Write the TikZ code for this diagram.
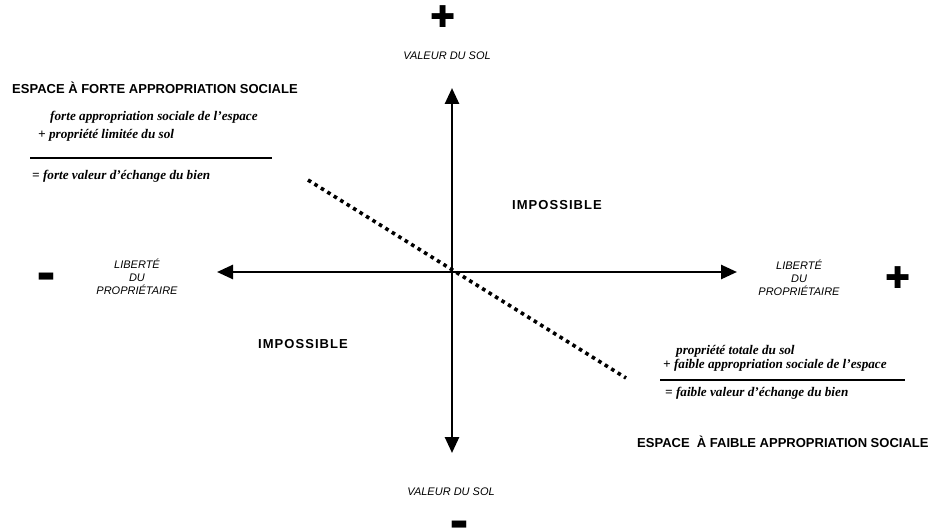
\documentclass[tikz,border=0pt]{standalone}
\usepackage{fontspec}
\setmainfont{Liberation Serif}
\setsansfont{Liberation Sans}
\newfontfamily\symbolfont{DejaVu Sans}
\usetikzlibrary{arrows.meta}

\begin{document}
\begin{tikzpicture}[
    x=1pt, y=-1pt,
    heading/.style={font=\sffamily\bfseries\fontsize{13}{15}\selectfont, anchor=west, inner sep=0pt},
    axislabel/.style={font=\sffamily\itshape\fontsize{11}{13}\selectfont, align=center, inner sep=0pt},
    formula/.style={font=\rmfamily\bfseries\itshape\fontsize{13.2}{15}\selectfont, anchor=west, inner sep=0pt},
    zone/.style={font=\sffamily\bfseries\addfontfeature{LetterSpace=8}\fontsize{13}{15}\selectfont, inner sep=0pt},
    sign/.style={font=\symbolfont\fontsize{30}{30}\selectfont, inner sep=0pt},
    minus/.style={font=\symbolfont\fontsize{19}{19}\selectfont, inner sep=0pt},
    axis/.style={-{Triangle[length=16pt,width=14pt]}, line width=2.6pt},
    rule/.style={line width=1.6pt},
    frontier/.style={line width=3.6pt, dash pattern=on 3.6pt off 4pt}
]
\useasboundingbox (0,0) rectangle (936,532);

% Axes
\coordinate (O) at (452,272);
\coordinate (top) at (452,88);
\coordinate (bottom) at (452,453);
\coordinate (left) at (217,272);
\coordinate (right) at (737,272);
\draw[axis] (O) -- (top);
\draw[axis] (O) -- (bottom);
\draw[axis] (O) -- (left);
\draw[axis] (O) -- (right);

% Signs and axis labels
\node[sign] (plustop) at (443,17) {✚};
\node[axislabel] (soltop) at (447,56) {VALEUR DU SOL};
\node[axislabel] (solbottom) at (451,492) {VALEUR DU SOL};
\node[minus] (minusbottom) at (459,525) {▬};
\node[minus] (minusleft) at (46,277) {▬};
\node[axislabel] (libleft) at (137,277) {LIBERTÉ\\DU\\PROPRIÉTAIRE};
\node[axislabel] (libright) at (799,278) {LIBERTÉ\\DU\\PROPRIÉTAIRE};
\node[sign] (plusright) at (898,278) {✚};

% Impossible zones
\node[zone] (impup) at (557,205) {IMPOSSIBLE};
\node[zone] (impdown) at (303,344) {IMPOSSIBLE};

% Dotted frontier
\coordinate (fstart) at (308,180);
\coordinate (fend) at (626,378);
\draw[frontier] (fstart) -- (fend);

% Strong appropriation
\node[heading] (strong) at (12,88) {ESPACE À FORTE APPROPRIATION SOCIALE};
\node[formula] (s1) at (50,117) {forte appropriation sociale de l'espace};
\node[formula] (s2) at (38,135) {+\ propriété limitée du sol};
\coordinate (sa) at (30,158);
\coordinate (sb) at (272,158);
\draw[rule] (sa) -- (sb);
\node[formula] (s3) at (32,176) {=\ forte valeur d'échange du bien};

% Weak appropriation
\node[formula] (w1) at (676,351) {propriété totale du sol};
\node[formula] (w2) at (663,365) {+\ faible appropriation sociale de l'espace};
\coordinate (wa) at (660,380);
\coordinate (wb) at (905,380);
\draw[rule] (wa) -- (wb);
\node[formula] (w3) at (665,393) {=\ faible valeur d'échange du bien};
\node[heading] (weak) at (637,442) {ESPACE\ \ À FAIBLE APPROPRIATION SOCIALE};

\end{tikzpicture}
\end{document}
